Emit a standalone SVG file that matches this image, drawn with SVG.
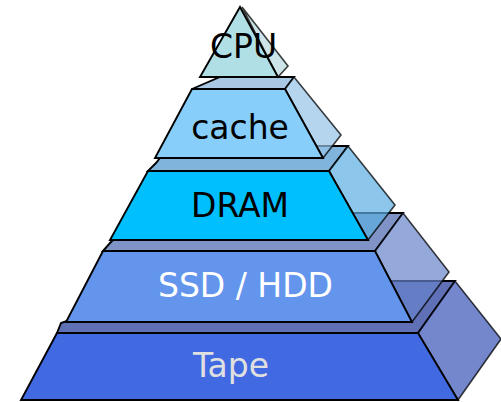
<svg xmlns="http://www.w3.org/2000/svg" width="501" height="402" viewBox="0 0 501 402">
  <style>
    .face { stroke: #000; stroke-width: 1.9; stroke-linejoin: miter; }
    .side { stroke: #000; stroke-opacity: 0.75; stroke-width: 1.6; fill-opacity: 0.7; stroke-linejoin: miter; }
    .lbl { font-family: "DejaVu Sans", Verdana, sans-serif; font-size: 33px; text-anchor: middle; }
  </style>
  <rect width="501" height="402" fill="#fff"/>

  <!-- bottom tier: Tape -->
  <g id="tape">
    <polygon class="face" fill="#5f70b6" points="57,333 61,323 67,321 110,281 455,281 418,333"/>
    <polygon class="side" fill="#3b54b6" points="418,333 455,281 501,339 458,400"/>
    <polygon class="face" fill="#4169e1" points="57,333 418,333 458,400 21,400"/>
    <text class="lbl" x="231" y="377" fill="#e0e0e0">Tape</text>
  </g>

  <!-- SSD / HDD tier -->
  <g id="ssd-hdd">
    <polygon class="face" fill="#7f93c6" points="103,251 110,243 113,240 150,213 403,213 375,251"/>
    <polygon class="side" fill="#6883ca" points="375,251 403,213 449,272 412,322"/>
    <polygon class="face" fill="#6495ed" points="103,251 375,251 412,322 66,322"/>
    <text class="lbl" x="245.5" y="297" fill="#fff">SSD / HDD</text>
  </g>

  <!-- DRAM tier -->
  <g id="dram">
    <polygon class="face" fill="#80b4dc" points="148,171 156,163 160,158 190,146 348,146 329,171"/>
    <polygon class="side" fill="#5baee1" points="329,171 348,146 395,205 368,240"/>
    <polygon class="face" fill="#00bfff" points="148,171 329,171 368,240 110,240"/>
    <text class="lbl" x="240" y="217" fill="#000">DRAM</text>
  </g>

  <!-- cache tier -->
  <g id="cache">
    <polygon class="face" fill="#a8c8e4" points="192,89 220,77 294,77 285,89"/>
    <polygon class="side" fill="#95c3e8" points="285,89 294,77 341,135 323,158"/>
    <polygon class="face" fill="#87cefa" points="192,89 285,89 323,158 155,158"/>
    <text class="lbl" x="240" y="139" fill="#000">cache</text>
  </g>

  <!-- apex: CPU -->
  <g id="cpu">
    <polygon class="side" fill="#b8dade" points="242,7 288,66 278,77"/>
    <polygon class="face" fill="#b0e0e6" points="240,7 278,77 200,77"/>
    <text class="lbl" x="243.5" y="58" fill="#000">CPU</text>
  </g>
</svg>
